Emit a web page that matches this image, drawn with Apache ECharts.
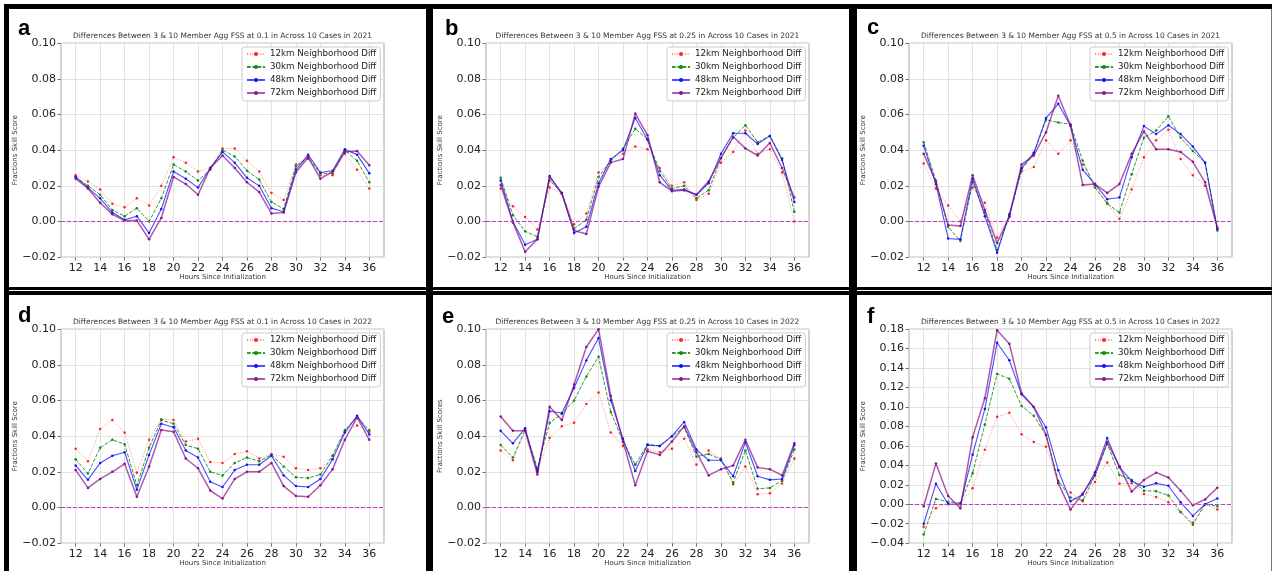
<!DOCTYPE html>
<html>
<head>
<meta charset="utf-8">
<script src="https://cdn.jsdelivr.net/npm/echarts@6/dist/echarts.min.js"></script>
<style>
html, body { margin: 0; padding: 0; background: #fff; }
#main { width: 1273px; height: 571px; }
</style>
</head>
<body>
<div id="main"></div>
<script>
// hours since initialization (x) and the tick labels shown
var hours = [12,13,14,15,16,17,18,19,20,21,22,23,24,25,26,27,28,29,30,31,32,33,34,35,36];
var xTicks = [12,14,16,18,20,22,24,26,28,30,32,34,36];
var names = ['12km Neighborhood Diff','30km Neighborhood Diff','48km Neighborhood Diff','72km Neighborhood Diff'];
var letters = ['a','b','c','d','e','f'];
var titles = [
    'Differences Between 3 & 10 Member Agg FSS at 0.1 in Across 10 Cases in 2021',
    'Differences Between 3 & 10 Member Agg FSS at 0.25 in Across 10 Cases in 2021',
    'Differences Between 3 & 10 Member Agg FSS at 0.5 in Across 10 Cases in 2021',
    'Differences Between 3 & 10 Member Agg FSS at 0.1 in Across 10 Cases in 2022',
    'Differences Between 3 & 10 Member Agg FSS at 0.25 in Across 10 Cases in 2022',
    'Differences Between 3 & 10 Member Agg FSS at 0.5 in Across 10 Cases in 2022'
];
var yNames = ['Fractions Skill Score','Fractions Skill Score','Fractions Skill Score',
              'Fractions Skill Score','Fractions Skill Scores','Fractions Skill Score'];
var yMins = [-0.02,-0.02,-0.02,-0.02,-0.02,-0.04];
var yMaxs = [0.10,0.10,0.10,0.10,0.10,0.18];
var zeroLevel = [0];

// a: threshold 0.1, 2021
var a12 = [0.026,0.0225,0.018,0.010,0.008,0.013,0.009,0.020,0.036,0.033,0.028,0.030,0.041,0.041,0.034,0.028,0.016,0.012,0.032,0.035,0.026,0.026,0.038,0.029,0.0185];
var a30 = [0.025,0.020,0.015,0.0065,0.003,0.0075,0.000,0.013,0.032,0.028,0.023,0.029,0.040,0.0365,0.0285,0.0235,0.011,0.007,0.031,0.036,0.027,0.027,0.040,0.034,0.022];
var a48 = [0.025,0.019,0.013,0.005,0.001,0.003,-0.0065,0.007,0.028,0.024,0.019,0.030,0.039,0.033,0.0245,0.020,0.0075,0.0055,0.029,0.0375,0.0275,0.0285,0.0405,0.0375,0.027];
var a72 = [0.024,0.0185,0.0105,0.004,0.0005,0.0005,-0.010,0.002,0.025,0.021,0.015,0.030,0.037,0.030,0.022,0.0165,0.0045,0.005,0.0275,0.036,0.024,0.028,0.039,0.0395,0.0315];
// b: threshold 0.25, 2021
var b12 = [0.0185,0.0085,0.0025,-0.0045,0.019,0.016,-0.0015,0.0045,0.0275,0.034,0.038,0.042,0.0405,0.030,0.020,0.022,0.012,0.0155,0.033,0.039,0.051,0.038,0.0405,0.0275,0.000];
var b30 = [0.0245,0.0035,-0.0055,-0.0085,0.023,0.016,-0.004,0.001,0.025,0.034,0.041,0.052,0.046,0.0285,0.0185,0.020,0.013,0.0175,0.0355,0.047,0.054,0.0445,0.048,0.0355,0.0055];
var b48 = [0.023,0.000,-0.013,-0.010,0.0255,0.016,-0.0065,-0.003,0.0215,0.035,0.040,0.058,0.046,0.026,0.0175,0.018,0.015,0.0215,0.038,0.0495,0.0495,0.0435,0.048,0.0345,0.011];
var b72 = [0.0205,-0.0005,-0.017,-0.010,0.025,0.0155,-0.005,-0.007,0.0195,0.033,0.035,0.0605,0.0485,0.022,0.017,0.0175,0.015,0.0225,0.0355,0.0475,0.041,0.037,0.044,0.030,0.0135];
// c: threshold 0.5, 2021
var c12 = [0.0325,0.0185,0.009,0.000,0.019,0.0105,-0.009,0.003,0.028,0.0305,0.0455,0.038,0.0455,0.032,0.020,0.0105,0.0015,0.018,0.036,0.0455,0.0515,0.035,0.026,0.020,-0.004];
var c30 = [0.0445,0.023,-0.003,-0.011,0.022,0.005,-0.016,0.003,0.029,0.038,0.057,0.0555,0.0545,0.034,0.019,0.010,0.005,0.0265,0.047,0.051,0.059,0.047,0.0395,0.033,-0.005];
var c48 = [0.0425,0.021,-0.0095,-0.010,0.024,0.003,-0.0175,0.004,0.030,0.0385,0.058,0.066,0.0535,0.029,0.021,0.0125,0.0135,0.036,0.0535,0.049,0.054,0.049,0.042,0.033,-0.004];
var c72 = [0.038,0.022,-0.002,-0.0025,0.026,0.0065,-0.012,0.0025,0.032,0.037,0.050,0.0705,0.054,0.0205,0.021,0.016,0.021,0.038,0.0505,0.0405,0.0405,0.039,0.0335,0.022,-0.0035];
// d: threshold 0.1, 2022
var d12 = [0.033,0.026,0.044,0.049,0.042,0.0195,0.038,0.0495,0.049,0.037,0.0385,0.0255,0.025,0.030,0.0315,0.0275,0.030,0.0285,0.022,0.021,0.022,0.029,0.0425,0.046,0.0425];
var d30 = [0.027,0.019,0.0335,0.038,0.0355,0.0125,0.0335,0.049,0.047,0.035,0.033,0.020,0.018,0.025,0.028,0.026,0.0295,0.023,0.017,0.0165,0.0185,0.029,0.0435,0.0505,0.0435];
var d48 = [0.0235,0.0155,0.025,0.029,0.031,0.010,0.0295,0.047,0.045,0.032,0.028,0.0145,0.0115,0.021,0.024,0.024,0.029,0.018,0.012,0.0115,0.016,0.027,0.042,0.0515,0.041];
var d72 = [0.021,0.011,0.016,0.020,0.0245,0.006,0.023,0.0435,0.0425,0.0275,0.022,0.0095,0.005,0.016,0.020,0.020,0.025,0.012,0.0065,0.006,0.0125,0.0215,0.038,0.0505,0.038];
// e: threshold 0.25, 2022
var e12 = [0.032,0.0265,0.043,0.021,0.039,0.0455,0.0475,0.058,0.0645,0.042,0.0345,0.024,0.0325,0.031,0.033,0.0385,0.024,0.032,0.0275,0.013,0.023,0.0075,0.008,0.0135,0.0275];
var e30 = [0.035,0.028,0.0435,0.022,0.0475,0.0525,0.060,0.0735,0.0845,0.0535,0.037,0.024,0.0355,0.0345,0.040,0.045,0.0285,0.030,0.027,0.014,0.032,0.0105,0.011,0.015,0.0325];
var e48 = [0.043,0.036,0.0445,0.020,0.054,0.053,0.067,0.0825,0.095,0.060,0.0385,0.0205,0.035,0.0345,0.040,0.048,0.0325,0.0265,0.0265,0.0175,0.0365,0.0175,0.0155,0.016,0.035];
var e72 = [0.051,0.043,0.043,0.0185,0.0565,0.049,0.069,0.090,0.100,0.0625,0.037,0.0125,0.0315,0.0295,0.037,0.0455,0.031,0.018,0.0215,0.0235,0.038,0.0225,0.0215,0.018,0.036];
// f: threshold 0.5, 2022
var f12 = [-0.023,-0.004,0.001,0.001,0.0165,0.056,0.090,0.094,0.072,0.064,0.059,0.022,0.012,0.003,0.023,0.043,0.021,0.0215,0.0105,0.0075,0.002,-0.008,-0.019,0.000,-0.0055];
var f30 = [-0.031,0.0055,0.0025,0.001,0.032,0.082,0.134,0.129,0.101,0.091,0.071,0.024,0.007,0.004,0.0295,0.062,0.030,0.025,0.014,0.0135,0.009,-0.008,-0.021,0.000,-0.002];
var f48 = [-0.020,0.021,0.000,0.000,0.051,0.098,0.166,0.148,0.113,0.100,0.079,0.035,0.003,0.010,0.033,0.068,0.038,0.024,0.018,0.0215,0.019,0.002,-0.012,0.000,0.006];
var f72 = [-0.002,0.042,0.0085,-0.004,0.069,0.109,0.179,0.165,0.114,0.100,0.0715,0.0215,-0.0055,0.011,0.030,0.064,0.039,0.013,0.025,0.0325,0.0275,0.014,-0.001,0.005,0.017];

var panelData = [[a12,a30,a48,a72],[b12,b30,b48,b72],[c12,c30,c48,c72],
                 [d12,d30,d48,d72],[e12,e30,e48,e72],[f12,f30,f48,f72]];

(function () {
    var FONT = '"DejaVu Sans", sans-serif';
    var plotLefts = [61, 486, 909];
    var plotTops = [43.17, 329.17];
    var plotW = 323, plotH = 214;

    // matplotlib-like styles: 'r.:' 'g.--' 'b.-' 'purple.-'
    var colors = ['#ff2020', '#108a10', '#1010ff', '#8a108a'];
    function lineStyleOf(k) {
        return [
            {color: 'rgba(255,0,0,0.45)', type: [1, 1.6], width: 1},
            {color: 'rgba(0,128,0,0.8)', type: [3.7, 1.6], width: 1},
            {color: 'rgba(0,0,255,0.7)', type: 'solid', width: 1.1},
            {color: 'rgba(128,0,128,0.65)', type: 'solid', width: 1.5}
        ][k];
    }

    function yFmt(v) {
        var r = Math.round(v * 100) / 100;
        return (r < 0 ? '\u2212' : '') + Math.abs(r).toFixed(2);
    }

    var grids = [], xAxes = [], yAxes = [], series = [], legends = [], titleList = [], graphics = [];

    for (var p = 0; p < 6; p++) {
        var col = p % 3, row = Math.floor(p / 3);
        var gLeft = plotLefts[col], gTop = plotTops[row];

        grids.push({left: gLeft, top: gTop, width: plotW, height: plotH, show: true,
            borderColor: '#a8a8a8', borderWidth: 1, backgroundColor: 'transparent'});

        xAxes.push({
            type: 'value', gridIndex: p, min: 10.8, max: 37.2,
            axisLine: {show: false, onZero: false},
            axisTick: {show: true, length: 3.5, customValues: xTicks, lineStyle: {color: '#777'}},
            axisLabel: {customValues: xTicks, fontSize: 11, color: '#222', margin: 5, fontFamily: FONT},
            splitLine: {show: true, lineStyle: {color: '#e2e2e2', width: 1}},
            name: 'Hours Since Initialization', nameLocation: 'middle', nameGap: 15,
            nameTextStyle: {fontSize: 7, color: '#333', fontFamily: FONT}
        });

        yAxes.push({
            type: 'value', gridIndex: p, min: yMins[p], max: yMaxs[p], interval: 0.02,
            axisLine: {show: false, onZero: false},
            axisTick: {show: true, length: 3.5, lineStyle: {color: '#777'}},
            axisLabel: {formatter: yFmt, fontSize: 11, color: '#222', margin: 5, fontFamily: FONT},
            splitLine: {show: true, lineStyle: {color: '#e2e2e2', width: 1}},
            name: yNames[p], nameLocation: 'middle', nameGap: 41,
            nameTextStyle: {fontSize: 7, color: '#333', fontFamily: FONT}
        });

        for (var k = 0; k < 4; k++) {
            var vals = panelData[p][k];
            var pts = [];
            for (var i = 0; i < hours.length; i++) pts.push([hours[i], vals[i]]);
            var s = {
                type: 'line', name: names[k], xAxisIndex: p, yAxisIndex: p,
                data: pts,
                symbol: 'circle', symbolSize: 2.5, showSymbol: true,
                lineStyle: lineStyleOf(k),
                itemStyle: {color: colors[k]},
                emphasis: {disabled: true},
                z: 2 + k
            };
            if (k === 0) {
                // horizontal zero line, drawn through the y axis
                s.markLine = {
                    silent: true, z: 20, symbol: ['none', 'none'], label: {show: false},
                    itemStyle: {color: '#cc33cc'},
                    lineStyle: {color: '#cc33cc', type: [4, 2], width: 1.2, opacity: 1},
                    emphasis: {disabled: true},
                    data: zeroLevel.map(function (v) {
                        return {yAxis: v, lineStyle: {color: '#cc33cc', opacity: 1}};
                    })
                };
            }
            series.push(s);
        }

        legends.push({
            data: names.slice(), orient: 'vertical', left: gLeft + 181, top: gTop + 3.8,
            itemWidth: 18, itemHeight: 5, itemGap: 3,
            padding: [2, 4, 3, 4],
            backgroundColor: 'rgba(255,255,255,0.85)', borderColor: '#cccccc', borderWidth: 1, borderRadius: 3,
            textStyle: {fontSize: 8.7, color: '#222', fontFamily: FONT, lineHeight: 10},
            selectedMode: false
        });

        titleList.push({
            text: titles[p], left: gLeft + plotW / 2, top: gTop - 11, textAlign: 'center', padding: 0,
            textStyle: {fontSize: 7.5, fontWeight: 'normal', color: '#333', fontFamily: FONT}
        });
    }

    // panel frames
    var bars = [
        [4, 4, 1268, 5], [4, 4, 5, 567], [426, 4, 7, 567], [849, 4, 8, 567],
        [4, 287, 1268, 3], [4, 291, 1268, 4]
    ];
    bars.forEach(function (bb) {
        graphics.push({type: 'rect', shape: {x: bb[0], y: bb[1], width: bb[2], height: bb[3]},
            style: {fill: '#000'}, silent: true, z: 100});
    });
    graphics.push({type: 'rect', shape: {x: 1271, y: 9, width: 1, height: 562}, style: {fill: '#777'}, silent: true});

    // panel letters
    var letterPos = [[18, 29], [445, 29], [867, 27.5], [18, 316], [442, 317], [867, 317]];
    letters.forEach(function (l, j) {
        graphics.push({type: 'text', x: letterPos[j][0], y: letterPos[j][1], silent: true, z: 100,
            style: {text: l, fill: '#000', font: 'bold 22px "Liberation Sans", Arial, sans-serif',
                align: 'left', verticalAlign: 'middle'}});
    });

    var myChart = echarts.init(document.getElementById('main'));
    myChart.setOption({
        backgroundColor: '#fff',
        animation: false,
        title: titleList,
        grid: grids,
        xAxis: xAxes,
        yAxis: yAxes,
        legend: legends,
        series: series,
        graphic: graphics
    });
})();
</script>
</body>
</html>
